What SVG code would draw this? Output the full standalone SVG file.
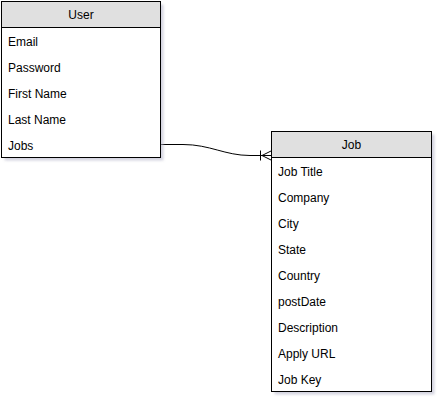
<svg xmlns="http://www.w3.org/2000/svg" width="439" height="402" viewBox="0 0 439 402">
<defs>
<filter id="sh" x="-10%" y="-10%" width="130%" height="130%">
<feGaussianBlur stdDeviation="1"/>
</filter>
</defs>
<style>
.shadow{fill:#b8b8cc;opacity:0.6;filter:url(#sh)}
.head{fill:#e0e0e0;stroke:#000;stroke-width:1}
.body{fill:#fff;stroke:#000;stroke-width:1}
.t{font-family:"Liberation Sans",Arial,sans-serif;font-size:12px;fill:#000}
.h{text-anchor:middle}
.conn{fill:none;stroke:#000;stroke-width:1}
</style>
<rect width="439" height="402" fill="#fff"/>
<g id="connectors">
<path class="conn" d="M160.5 144.5 H183 C210 144.5 225 155.5 250 155.5 H271"/>
<path class="conn" d="M260.5 150.5 V160.5 M262 155.5 L271 151 M262 155.5 L271 160"/>
</g>
<g id="User">
<rect class="shadow" x="4.5" y="4.5" width="159" height="156"/>
<rect class="body" x="1.5" y="1.5" width="159" height="156"/>
<rect class="head" x="1.5" y="1.5" width="159" height="26"/>
<text class="t h" x="81" y="19">User</text>
<text class="t" x="8" y="46">Email</text>
<text class="t" x="8" y="72">Password</text>
<text class="t" x="8" y="98">First Name</text>
<text class="t" x="8" y="124">Last Name</text>
<text class="t" x="8" y="150">Jobs</text>
</g>
<g id="Job">
<rect class="shadow" x="274.5" y="134.5" width="160" height="260"/>
<rect class="body" x="271.5" y="131.5" width="160" height="260"/>
<rect class="head" x="271.5" y="131.5" width="160" height="26"/>
<text class="t h" x="351.5" y="149">Job</text>
<text class="t" x="278" y="176">Job Title</text>
<text class="t" x="278" y="202">Company</text>
<text class="t" x="278" y="228">City</text>
<text class="t" x="278" y="254">State</text>
<text class="t" x="278" y="280">Country</text>
<text class="t" x="278" y="306">postDate</text>
<text class="t" x="278" y="332">Description</text>
<text class="t" x="278" y="358">Apply URL</text>
<text class="t" x="278" y="384">Job Key</text>
</g>
</svg>
